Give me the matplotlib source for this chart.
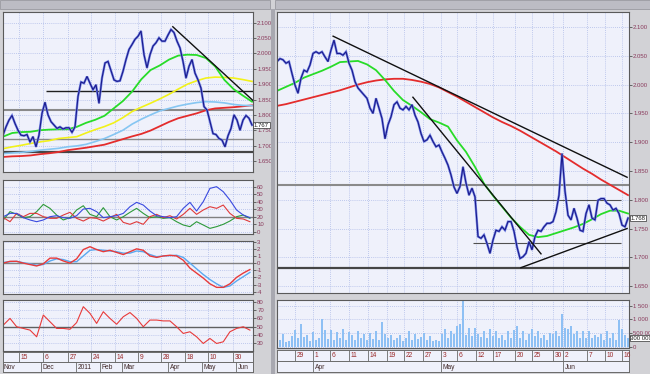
import numpy as np
import matplotlib
matplotlib.use("Agg")
import matplotlib.pyplot as plt
from matplotlib.patches import Rectangle
from matplotlib.ticker import FuncFormatter

W, H = 650, 374
plt.rcParams["font.family"] = ["Liberation Sans", "DejaVu Sans"]

# ---------------- left window: daily bars, Nov 2010 - Jun 2011 ----------------
left_close = [1.734, 1.761, 1.783, 1.798, 1.772, 1.750, 1.734, 1.732, 1.736, 1.712,
              1.729, 1.696, 1.734, 1.805, 1.841, 1.800, 1.778, 1.767, 1.756, 1.761,
              1.754, 1.758, 1.758, 1.743, 1.761, 1.860, 1.907, 1.903, 1.925, 1.903,
              1.882, 1.898, 1.838, 1.920, 1.969, 1.974, 1.944, 1.914, 1.909, 1.911,
              1.942, 1.980, 2.013, 2.029, 2.046, 2.056, 2.073, 1.996, 1.953, 1.996,
              2.024, 2.035, 2.051, 2.040, 2.040, 2.060, 2.078, 2.068, 2.040, 2.018,
              1.974, 1.920, 1.958, 1.980, 1.936, 1.914, 1.887, 1.827, 1.816, 1.778,
              1.739, 1.736, 1.723, 1.718, 1.696, 1.732, 1.756, 1.800, 1.783, 1.750,
              1.783, 1.798, 1.789, 1.767]
left_ma_green = [1.729, 1.741, 1.744, 1.745, 1.750, 1.752, 1.753, 1.753, 1.761, 1.774,
                 1.784, 1.797, 1.821, 1.845, 1.876, 1.916, 1.946, 1.961, 1.980, 1.993,
                 1.996, 1.995, 1.985, 1.958, 1.914, 1.884, 1.863, 1.843]
left_ma_yellow = [1.690, 1.696, 1.701, 1.707, 1.712, 1.716, 1.723, 1.726, 1.729, 1.741,
                  1.752, 1.762, 1.774, 1.791, 1.811, 1.825, 1.838, 1.852, 1.867, 1.884,
                  1.900, 1.911, 1.920, 1.923, 1.922, 1.920, 1.915, 1.909]
left_ma_blue = [1.674, 1.676, 1.678, 1.681, 1.685, 1.688, 1.691, 1.696, 1.699, 1.704,
                1.713, 1.723, 1.736, 1.750, 1.770, 1.786, 1.800, 1.813, 1.821, 1.829,
                1.835, 1.840, 1.843, 1.842, 1.839, 1.834, 1.831, 1.830]
left_ma_red = [1.663, 1.665, 1.666, 1.668, 1.672, 1.675, 1.679, 1.685, 1.689, 1.693,
               1.698, 1.703, 1.712, 1.721, 1.730, 1.738, 1.749, 1.763, 1.777, 1.789,
               1.797, 1.805, 1.815, 1.821, 1.823, 1.825, 1.828, 1.831]

dmi_blue = [20.1, 24.5, 24.5, 18.8, 15.7, 13.4, 15.7, 20.1, 21.4, 18.8, 17.9, 21.4, 30.3,
            31.2, 26.8, 18.8, 20.1, 21.4, 24.5, 33.4, 39.2, 35.6, 27.6, 21.4, 20.1, 18.8,
            20.1, 31.2, 39.2, 27.6, 40.1, 57.8, 60.1, 53.4, 42.3, 29.0, 22.3, 18.8]
dmi_red = [18.8, 13.4, 24.5, 20.1, 24.5, 24.5, 20.1, 17.9, 17.9, 22.3, 25.9, 17.9, 14.3,
           18.8, 17.9, 14.3, 18.8, 23.2, 12.5, 9.9, 13.4, 9.9, 20.1, 23.2, 18.8, 21.4,
           17.0, 23.2, 31.2, 23.2, 29.0, 33.4, 31.2, 35.6, 24.5, 17.9, 17.0, 13.4]
dmi_green = [15.7, 26.8, 23.2, 18.8, 20.1, 26.8, 36.5, 31.2, 22.3, 15.7, 18.8, 29.0, 34.7,
             23.2, 20.1, 32.1, 20.1, 15.7, 20.1, 25.9, 31.2, 24.5, 18.8, 20.1, 17.9, 18.8,
             13.4, 9.0, 6.8, 13.4, 9.0, 4.5, 6.8, 9.9, 14.3, 20.1, 22.3, 17.9]
macd_line = [0.0, 0.25, 0.25, 0.0, -0.2, -0.4, -0.1, 0.7, 0.7, 0.3, 0.0, 0.6, 1.9, 2.3,
             1.9, 1.6, 1.8, 1.5, 1.2, 1.6, 2.0, 1.8, 1.0, 0.8, 1.0, 1.1, 1.0, 0.4, -0.7,
             -1.4, -2.1, -2.9, -3.4, -3.4, -2.9, -2.0, -1.4, -0.9]
macd_signal = [0.1, 0.2, 0.25, 0.05, -0.1, -0.3, -0.2, 0.3, 0.6, 0.5, 0.2, 0.2, 1.0, 1.8,
               1.9, 1.8, 1.7, 1.6, 1.4, 1.4, 1.7, 1.6, 1.2, 0.9, 1.0, 1.05, 1.1, 0.8, 0.0,
               -0.8, -1.6, -2.3, -2.9, -3.4, -3.2, -2.5, -1.9, -1.3]
rsi = [52, 60, 50, 48, 46, 38, 64, 56, 48, 48, 47, 55, 74, 66, 54, 68, 60, 53, 62, 67,
       60, 50, 58, 58, 57, 57, 50, 42, 44, 38, 30, 36, 30, 32, 44, 48, 50, 46]

left_day_pos = [5.33, 13.33, 21.67, 29.33, 37.33, 45, 52.67, 60.67, 68.33, 76.67]
left_day_lbl = ["15", "6", "27", "24", "14", "9", "28", "18", "10", "30"]
left_mon_pos = [-0.33, 12.67, 24.33, 32.33, 39.67, 55, 66.33, 77.67]
left_mon_lbl = ["Nov", "Dec", "2011", "Feb", "Mar", "Apr", "May", "Jun"]

# drawn lines: (x0, y0, x1, y1) in bars / price
left_trend = [(56.6, 2.087, 83.3, 1.847)]

# ---------------- right window: hourly bars, end Mar - Jun 2011 ----------------
right_close = [2.040, 2.045, 2.043, 2.037, 2.040, 2.019, 1.999, 1.985, 2.011, 2.025,
               2.022, 2.034, 2.054, 2.057, 2.054, 2.057, 2.048, 2.040, 2.060, 2.077,
               2.054, 2.054, 2.051, 2.057, 2.037, 2.025, 2.005, 1.994, 1.988, 1.982,
               1.976, 1.959, 1.950, 1.976, 1.959, 1.941, 1.906, 1.930, 1.944, 1.965,
               1.970, 1.959, 1.956, 1.962, 1.956, 1.965, 1.947, 1.935, 1.915, 1.901,
               1.904, 1.912, 1.901, 1.892, 1.895, 1.883, 1.872, 1.860, 1.843, 1.822,
               1.811, 1.823, 1.857, 1.829, 1.808, 1.820, 1.805, 1.736, 1.733, 1.739,
               1.724, 1.707, 1.730, 1.747, 1.745, 1.753, 1.747, 1.762, 1.762, 1.745,
               1.718, 1.698, 1.701, 1.707, 1.727, 1.713, 1.736, 1.747, 1.745, 1.753,
               1.759, 1.759, 1.762, 1.779, 1.808, 1.880, 1.815, 1.773, 1.765, 1.785,
               1.768, 1.747, 1.745, 1.776, 1.791, 1.768, 1.765, 1.799, 1.802, 1.802,
               1.794, 1.791, 1.782, 1.785, 1.776, 1.756, 1.753, 1.768]
right_ma_green = [1.989, 1.996, 2.003, 2.012, 2.018, 2.024, 2.031, 2.039, 2.040, 2.041,
                  2.035, 2.025, 2.008, 1.989, 1.973, 1.963, 1.952, 1.940, 1.934, 1.927,
                  1.903, 1.883, 1.857, 1.828, 1.807, 1.788, 1.769, 1.753, 1.739, 1.735,
                  1.737, 1.742, 1.747, 1.752, 1.758, 1.766, 1.775, 1.781, 1.781, 1.776]
right_ma_red = [1.963, 1.966, 1.970, 1.974, 1.978, 1.982, 1.986, 1.990, 1.995, 2.000,
                2.004, 2.007, 2.009, 2.010, 2.010, 2.008, 2.005, 2.001, 1.995, 1.987,
                1.979, 1.970, 1.961, 1.952, 1.943, 1.935, 1.928, 1.920, 1.911, 1.902,
                1.893, 1.884, 1.874, 1.864, 1.854, 1.845, 1.835, 1.826, 1.817, 1.808]
right_volume = [780, 250, 450, 180, 220, 380, 600, 300, 820, 350, 420, 200, 530, 260, 300,
                1030, 620, 280, 600, 230, 520, 300, 640, 260, 540, 420, 250, 560, 300, 480,
                250, 500, 280, 560, 240, 920, 480, 300, 430, 250, 320, 430, 220, 300, 560,
                250, 480, 280, 350, 500, 260, 380, 220, 240, 200, 450, 640, 300, 560, 450,
                760, 820, 1680, 420, 700, 380, 700, 480, 350, 560, 300, 640, 380, 560, 300,
                440, 250, 560, 320, 600, 760, 300, 560, 250, 480, 640, 380, 560, 300, 440,
                250, 500, 460, 560, 380, 1180, 700, 640, 760, 450, 560, 300, 580, 320, 560,
                300, 440, 350, 480, 260, 560, 300, 500, 250, 960, 650, 420, 300]

right_day_pos = [6, 12, 17.67, 24, 30.33, 36.67, 42.33, 48.67, 54.67, 60, 66.33, 72,
                 79.33, 85, 92, 95.33, 103.33, 109.33, 115]
right_day_lbl = ["29", "1", "6", "11", "14", "19", "22", "27", "3", "6", "12", "17",
                 "20", "25", "30", "2", "7", "10", "16"]
right_mon_pos = [12, 54.67, 95.33]
right_mon_lbl = ["Apr", "May", "Jun"]

right_trend = [(18.7, 2.084, 116.7, 1.839),
               (45.3, 1.978, 88.0, 1.706),
               (81.3, 1.682, 116.7, 1.750)]

# ---------------- styling ----------------
PANEL = "#eff1fb"
GRID = "#aebbe8"
LBL = "#8a3a5c"
WIN = "#d2d2d6"
FS = 4.3

fig = plt.figure(figsize=(6.5, 3.74), dpi=100, facecolor=WIN)


def box(x0, y0, x1, y1):
    return [x0 / W, 1 - y1 / H, (x1 - x0) / W, (y1 - y0) / H]


def panel(rect, xlim, ylim, yticks, xgrid, fmt):
    ax = fig.add_axes(box(*rect))
    ax.set_facecolor(PANEL)
    ax.set_xlim(*xlim)
    ax.set_ylim(*ylim)
    ax.set_yticks(yticks)
    ax.set_xticks(xgrid)
    ax.set_xticklabels([])
    ax.yaxis.tick_right()
    ax.yaxis.set_major_formatter(FuncFormatter(fmt))
    ax.tick_params(axis="x", length=0)
    ax.tick_params(axis="y", length=2, width=0.6, color="#505050",
                   labelsize=FS, labelcolor=LBL, pad=1)
    ax.grid(True, color=GRID, lw=0.6, ls=(0, (1, 1.5)))
    ax.set_axisbelow(True)
    for s in ax.spines.values():
        s.set_color("#5a5a5a")
        s.set_linewidth(0.8)
    return ax


def date_axis(rect, xlim, day_pos, day_lbl, mon_pos, mon_lbl):
    ax = fig.add_axes(box(*rect))
    ax.set_facecolor(PANEL)
    ax.set_xlim(*xlim)
    ax.set_ylim(0, 2)
    ax.set_xticks([])
    ax.set_yticks([])
    ax.axhline(1, color="#6a6a6a", lw=0.7)
    ax.vlines(day_pos, 1, 2, color="#6a6a6a", lw=0.6)
    ax.vlines(mon_pos, 0, 1, color="#6a6a6a", lw=0.6)
    for p, t in zip(day_pos, day_lbl):
        ax.text(p + 0.6, 1.48, t, fontsize=4.8, color="#9a2a2a", va="center")
    for p, t in zip(mon_pos, mon_lbl):
        ax.text(p + 0.6, 0.45, t, fontsize=4.8, color="#402828", va="center")
    for s in ax.spines.values():
        s.set_color("#6a6a6a")
        s.set_linewidth(0.7)
    return ax


def price_tag(ax, value, text):
    ax.text(1.004, value, text, transform=ax.get_yaxis_transform(), fontsize=FS,
            va="center", ha="left", color="#202020",
            bbox=dict(fc="white", ec="#303030", lw=0.5, pad=0.4))


def draw_price(ax, x, y):
    ax.plot(x, y, color="#7484e4", lw=1.7, solid_joinstyle="miter")
    ax.plot(x, y, color="#1a1a8c", lw=0.8)


price_fmt = lambda v, p: f"{v:.3f}"
int_fmt = lambda v, p: f"{v:.0f}"

# window title bars and separators
for x0, x1 in [(0, 270), (275, 650)]:
    fig.add_artist(Rectangle((x0 / W, 1 - 9 / H), (x1 - x0) / W, 9 / H,
                             transform=fig.transFigure, fc="#bcbcc4", ec="#909098", lw=0.5))
fig.add_artist(Rectangle((271 / W, 0), 4 / W, 1 - 9 / H, transform=fig.transFigure,
                         fc="#a8a8b0", ec="none"))

# ---- left main ----
lx = np.arange(len(left_close))
lxlim = (0, 83.33)
ax = panel((3, 12, 253, 172), lxlim, (1.614, 2.135),
           np.arange(1.65, 2.101, 0.05), left_day_pos, price_fmt)
ax.axhline(1.817, color="#8a8a8a", lw=1.5)
ax.axhline(1.723, color="#8a8a8a", lw=1.0)
ax.axhline(1.679, color="#454545", lw=1.6)
ax.hlines(1.879, 14.3, lxlim[1], color="#202020", lw=1.0)
mx = np.linspace(0, lx[-1], len(left_ma_red))
ax.plot(mx, left_ma_red, color="#e42c2c", lw=1.3)
ax.plot(mx, left_ma_blue, color="#86c6f2", lw=1.2)
ax.plot(mx, left_ma_yellow, color="#f2f21a", lw=1.2)
ax.plot(mx, left_ma_green, color="#28dc28", lw=1.3)
draw_price(ax, lx, left_close)
for x0, y0, x1, y1 in left_trend:
    ax.plot([x0, x1], [y0, y1], color="#101010", lw=1.0)
price_tag(ax, left_close[-1], f"{left_close[-1]:.3f}")

# ---- left indicators ----
ix = np.linspace(0.11, 82.3, len(rsi))
ax = panel((3, 180, 253, 234), lxlim, (-3, 69), np.arange(0, 61, 10), left_day_pos, int_fmt)
ax.axhline(20, color="#808080", lw=1.0)
ax.plot(ix, dmi_green, color="#2e9a3a", lw=0.8)
ax.plot(ix, dmi_red, color="#e03a3a", lw=0.8)
ax.plot(ix, dmi_blue, color="#3a4ae0", lw=0.8)

ax = panel((3, 241, 253, 294), lxlim, (-4.33, 3.1), np.arange(-4, 4, 1), left_day_pos, int_fmt)
ax.axhline(0, color="#808080", lw=1.0)
ax.plot(ix, macd_signal, color="#5aa8f0", lw=1.0)
ax.plot(ix, macd_line, color="#e83a3a", lw=1.0)

ax = panel((3, 300, 253, 351), lxlim, (21, 82), np.arange(30, 81, 10), left_day_pos, int_fmt)
ax.axhline(50, color="#606060", lw=1.0)
ax.plot(ix, rsi, color="#e83a3a", lw=0.8)

date_axis((3, 352, 253, 372), lxlim, left_day_pos, left_day_lbl, left_mon_pos, left_mon_lbl)

# ---- right main ----
rx = np.arange(len(right_close))
rxlim = (0, 117.33)
ax = panel((277, 12, 629, 293), rxlim, (1.638, 2.126),
           np.arange(1.65, 2.101, 0.05), right_day_pos, price_fmt)
ax.axhline(1.826, color="#8a8a8a", lw=1.5)
ax.axhline(1.681, color="#454545", lw=1.6)
ax.hlines([1.800, 1.724], 65.3, 114.5, color="#505050", lw=0.8)
rmx = np.arange(0, len(right_close), 3)
ax.plot(rmx, right_ma_red, color="#e42c2c", lw=1.3)
ax.plot(rmx, right_ma_green, color="#28dc28", lw=1.3)
draw_price(ax, rx, right_close)
for x0, y0, x1, y1 in right_trend:
    ax.plot([x0, x1], [y0, y1], color="#101010", lw=1.0)
price_tag(ax, right_close[-1], f"{right_close[-1]:.3f}")

# ---- volume ----
vol_fmt = lambda v, p: f"{v * 1000:,.0f}".replace(",", " ")
ax = panel((277, 300, 629, 348), rxlim, (-50, 1710), [0, 500, 1000, 1500], right_day_pos, vol_fmt)
ax.bar(rx, right_volume, width=0.75, color="#8ec0f4", edgecolor="none")
price_tag(ax, right_volume[-1], vol_fmt(right_volume[-1], None))

date_axis((277, 350, 629, 372), rxlim, right_day_pos, right_day_lbl, right_mon_pos, right_mon_lbl)

fig.savefig("out.png", dpi=100, facecolor=WIN)
